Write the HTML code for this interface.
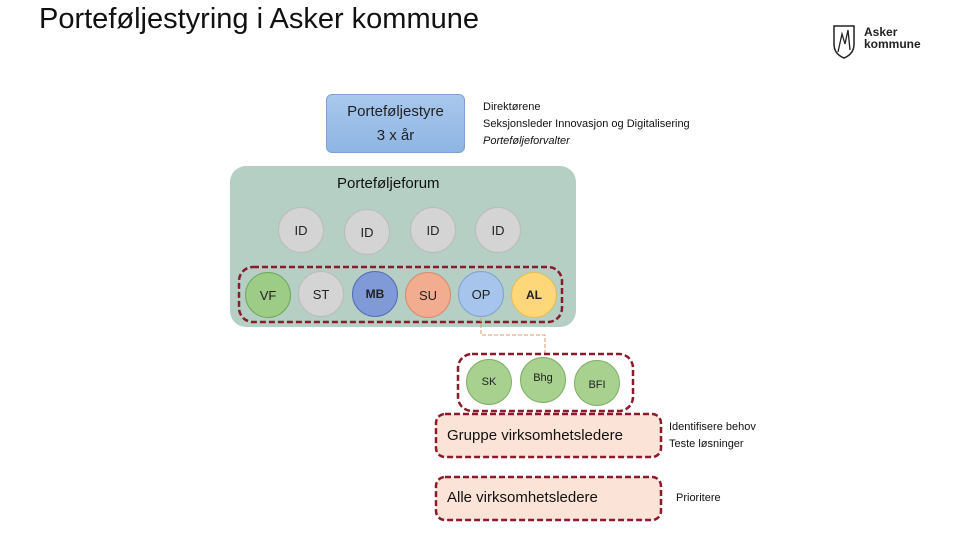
<!DOCTYPE html>
<html><head><meta charset="utf-8"><style>
body{margin:0;width:960px;height:540px;background:#fff;position:relative;overflow:hidden;font-family:"Liberation Sans",sans-serif}
.a{position:absolute}
.c{position:absolute;width:46px;height:46px;border-radius:50%;display:flex;align-items:center;justify-content:center;font-size:13px;color:#222;box-sizing:border-box}
.g{background:#d4d4d4;border:1px solid #bbb}
.t{font-size:11px;color:#111;line-height:17px}
</style></head><body>
<div class="a" style="left:39px;top:3px;font-size:29px;color:#111">Porteføljestyring i Asker kommune</div>
<svg class="a" style="left:828px;top:22px" width="40" height="40"><path d="M6 4h20v18c0 8-5 12-10 14c-5-2-10-6-10-14z" fill="none" stroke="#222" stroke-width="1.5"/><path d="M10 30l4-18l3 10l3-14l2 20" fill="none" stroke="#222" stroke-width="1.3"/></svg>
<div class="a" style="left:864px;top:26px;font-size:12px;line-height:12px;color:#222;font-weight:bold">Asker<br>kommune</div>
<div class="a" style="left:326px;top:94px;width:139px;height:59px;border-radius:6px;background:linear-gradient(#a8c8ec,#8fb5e3);border:1px solid #7ea3d2;box-sizing:border-box;text-align:center;font-size:15px;line-height:24px;padding-top:5px;color:#222">Porteføljestyre<br>3 x år</div>
<div class="a t" style="left:483px;top:99px">Direktørene<br>Seksjonsleder Innovasjon og Digitalisering<br><i>Porteføljeforvalter</i></div>
<div class="a" style="left:230px;top:166px;width:346px;height:161px;border-radius:16px;background:#b5cfc4"></div>
<div class="a" style="left:337px;top:175px;font-size:15px;color:#111">Porteføljeforum</div>
<div class="c g" style="left:278px;top:207px">ID</div>
<div class="c g" style="left:344px;top:209px">ID</div>
<div class="c g" style="left:410px;top:207px">ID</div>
<div class="c g" style="left:475px;top:207px">ID</div>
<svg class="a" style="left:0;top:0" width="960" height="540">
<rect x="239" y="267" width="323" height="55" rx="14" fill="none" stroke="#8b1a2a" stroke-width="2.5" stroke-dasharray="6,3"/>
<path d="M481 318V335H545V353" fill="none" stroke="#d99a6c" stroke-width="1" stroke-dasharray="4,2"/>
<rect x="458" y="354" width="175" height="57" rx="14" fill="none" stroke="#8b1a2a" stroke-width="2.5" stroke-dasharray="6,3"/>
<rect x="436" y="414" width="225" height="43" rx="9" fill="#fbe3d7" stroke="#8b1a2a" stroke-width="2.5" stroke-dasharray="6,3"/>
<rect x="436" y="477" width="225" height="43" rx="9" fill="#fbe3d7" stroke="#8b1a2a" stroke-width="2.5" stroke-dasharray="6,3"/>
</svg>
<div class="c" style="left:245px;top:272px;background:#9ccc86;border:1px solid #6fa85a">VF</div>
<div class="c g" style="left:298px;top:271px">ST</div>
<div class="c" style="left:352px;top:271px;background:#7f9ad6;border:1px solid #4f6fb8;font-weight:bold;font-size:12px">MB</div>
<div class="c" style="left:405px;top:272px;background:#f2ac8f;border:1px solid #d88a6c">SU</div>
<div class="c" style="left:458px;top:271px;background:#a6c4ec;border:1px solid #7ea3d2">OP</div>
<div class="c" style="left:511px;top:272px;background:#fdd77a;border:1px solid #e8bb50;font-weight:bold;font-size:12px">AL</div>
<div class="c" style="left:466px;top:359px;background:#a8d18f;border:1px solid #7faf68;font-size:11px">SK</div>
<div class="c" style="left:520px;top:357px;background:#a8d18f;border:1px solid #7faf68;font-size:11px;padding-bottom:4px">Bhg</div>
<div class="c" style="left:574px;top:360px;background:#a8d18f;border:1px solid #7faf68;font-size:11px;padding-top:3px">BFI</div>
<div class="a" style="left:447px;top:427px;font-size:15px;color:#111">Gruppe virksomhetsledere</div>
<div class="a" style="left:447px;top:489px;font-size:15px;color:#111">Alle virksomhetsledere</div>
<div class="a t" style="left:669px;top:419px">Identifisere behov<br>Teste løsninger</div>
<div class="a t" style="left:676px;top:490px">Prioritere</div>
</body></html>
